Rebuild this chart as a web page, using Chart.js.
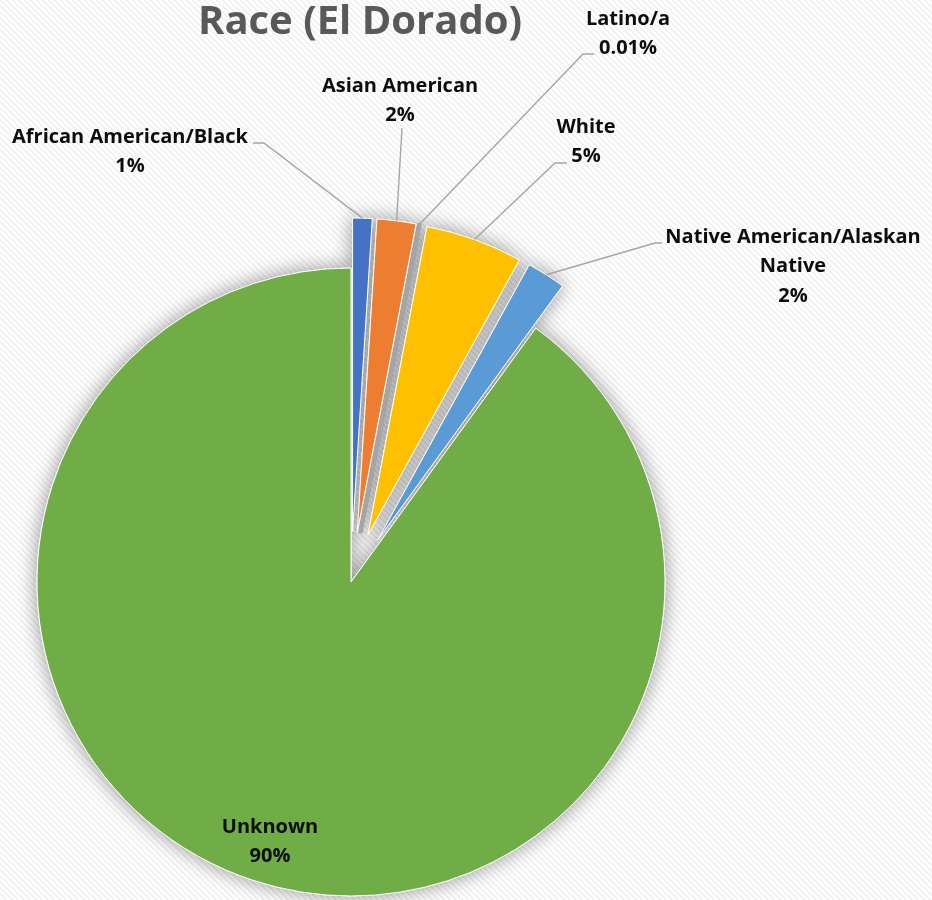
<!DOCTYPE html>
<html>
<head>
<meta charset="utf-8">
<script src="https://cdn.jsdelivr.net/npm/chart.js@4"></script>
<style>
  html, body { margin: 0; padding: 0; background: #ffffff; }
  canvas { display: block; }
</style>
</head>
<body>
<canvas id="raceChart" width="932" height="900"></canvas>
<script>
// slices, clockwise from 12 o'clock
const categories = [
    ['African American/Black'],
    ['Asian American'],
    ['Latino/a'],
    ['White'],
    ['Native American/Alaskan', 'Native'],
    ['Unknown']
];
const percents = [1, 2, 0.01, 5, 2, 90];
const colors = ['#4472C4', '#ED7D31', '#A5A5A5', '#FFC000', '#5B9BD5', '#70AD47'];

// how far each slice is pulled out of the pie (px)
const explode = [50, 50, 50, 50, 50, 0];

// label text centre + where the leader line starts (null = label sits inside)
const labelLayout = [
    { x: 130, y: 137, lead: [[253, 143], [264, 143]] },
    { x: 400, y: 86,  lead: [[402, 128]] },
    { x: 628, y: 19,  lead: [[594, 54], [583, 54]] },
    { x: 586, y: 127, lead: [[567, 163], [555, 163]] },
    { x: 793, y: 237, lead: [[662, 243], [655, 243]] },
    { x: 270, y: 827, lead: null }
];

const FONT = '"Open Sans", Lato, sans-serif';

// faint diagonal hatch behind everything
function hatchPattern(ctx) {
    const tile = document.createElement('canvas');
    tile.width = tile.height = 6;
    const t = tile.getContext('2d');
    t.fillStyle = '#ffffff';
    t.fillRect(0, 0, 6, 6);
    t.fillStyle = '#efefef';
    for (let y = 0; y < 6; y++) {
        for (let x = 0; x < 6; x++) {
            const d = ((x - y) % 6 + 6) % 6;
            if (d === 0 || d === 1) t.fillRect(x, y, 1, 1);
        }
    }
    return ctx.createPattern(tile, 'repeat');
}

const backgroundPlugin = {
    id: 'hatchBg',
    beforeDraw(chart) {
        const ctx = chart.ctx;
        ctx.save();
        ctx.fillStyle = hatchPattern(ctx);
        ctx.fillRect(0, 0, chart.width, chart.height);
        ctx.restore();
    }
};

const explodePlugin = {
    id: 'explode',
    afterDatasetUpdate(chart, args) {
        args.meta.data.forEach((arc, i) => {
            const d = explode[i] || 0;
            if (!d) return;
            const mid = (arc.startAngle + arc.endAngle) / 2;
            arc.x += Math.cos(mid) * d;
            arc.y += Math.sin(mid) * d;
        });
    }
};

// soft drop shadow painted underneath the slices
const shadowPlugin = {
    id: 'pieShadow',
    beforeDatasetsDraw(chart) {
        const ctx = chart.ctx;
        ctx.save();
        ctx.shadowColor = 'rgba(0,0,0,0.4)';
        ctx.shadowBlur = 20;
        chart.getDatasetMeta(0).data.forEach(arc => arc.draw(ctx));
        ctx.restore();
    }
};

const labelPlugin = {
    id: 'sliceLabels',
    afterDatasetsDraw(chart) {
        const ctx = chart.ctx;
        const arcs = chart.getDatasetMeta(0).data;
        ctx.save();

        // title
        ctx.fillStyle = '#595959';
        ctx.font = 'bold 40px ' + FONT;
        ctx.textAlign = 'center';
        ctx.textBaseline = 'middle';
        ctx.fillText('Race (El Dorado)', 360, 23);

        arcs.forEach((arc, i) => {
            const lay = labelLayout[i];
            if (lay.lead) {
                const mid = (arc.startAngle + arc.endAngle) / 2;
                const ex = arc.x + Math.cos(mid) * arc.outerRadius;
                const ey = arc.y + Math.sin(mid) * arc.outerRadius;
                ctx.beginPath();
                ctx.strokeStyle = '#a6a6a6';
                ctx.lineWidth = 1.4;
                ctx.moveTo(lay.lead[0][0], lay.lead[0][1]);
                lay.lead.slice(1).forEach(p => ctx.lineTo(p[0], p[1]));
                ctx.lineTo(ex, ey);
                ctx.stroke();
            }
            const lines = categories[i].concat([percents[i] + '%']);
            ctx.fillStyle = '#0d0d0d';
            ctx.font = 'bold 20px ' + FONT;
            lines.forEach((t, k) => ctx.fillText(t, lay.x, lay.y + k * 29.5));
        });
        ctx.restore();
    }
};

new Chart(document.getElementById('raceChart'), {
    type: 'pie',
    data: {
        labels: categories,
        datasets: [{
            data: percents,
            backgroundColor: colors,
            borderColor: ['#ffffff', '#ffffff', '#A5A5A5', '#ffffff', '#ffffff', '#ffffff'],
            borderWidth: [1, 1, 4, 1, 1, 1]
        }]
    },
    options: {
        responsive: false,
        animation: false,
        radius: 314,
        layout: { padding: { left: 0, right: 230, top: 264, bottom: 0 } },
        plugins: {
            legend: { display: false },
            title: { display: false },
            tooltip: { enabled: false }
        }
    },
    plugins: [backgroundPlugin, explodePlugin, shadowPlugin, labelPlugin]
});
</script>
</body>
</html>
